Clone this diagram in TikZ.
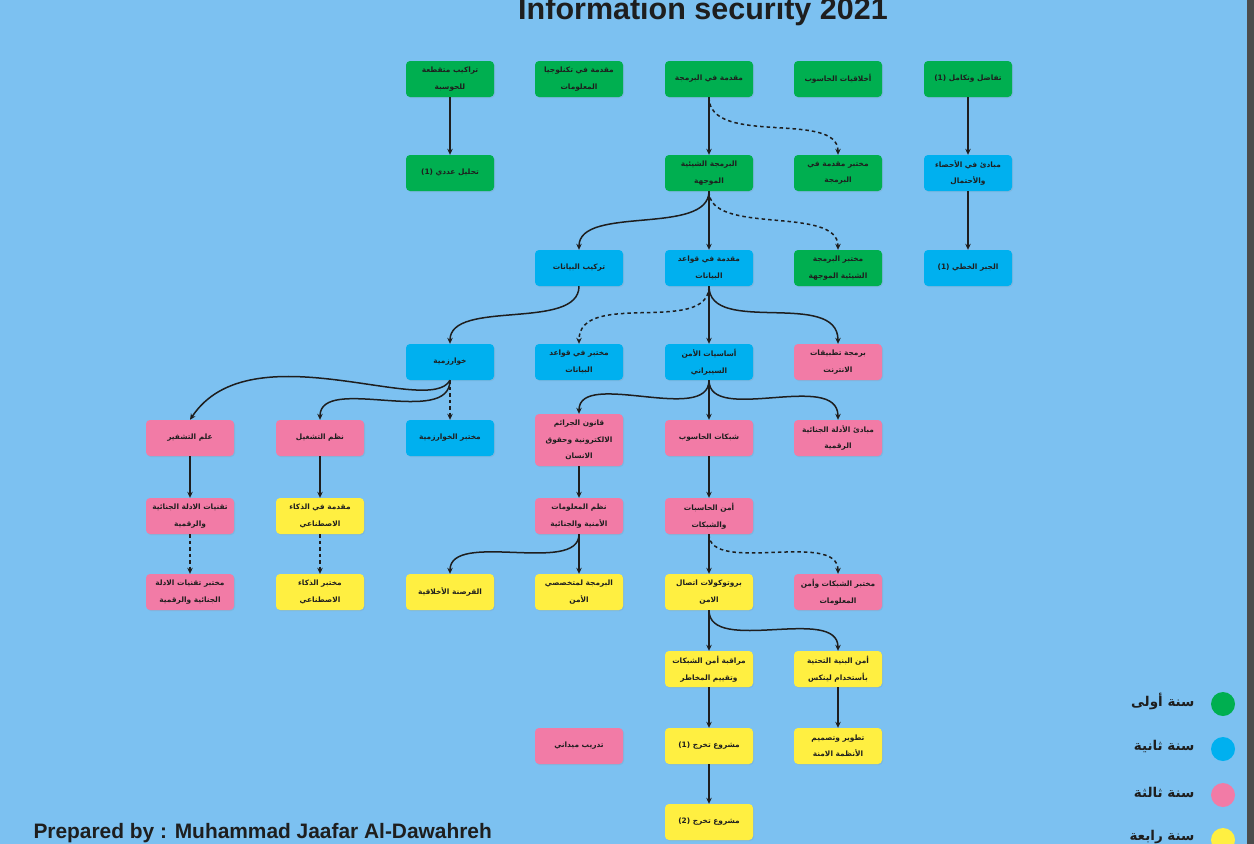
\documentclass[tikz,border=0pt]{standalone}
\usepackage{fontspec}
\setmainfont{Liberation Sans}
\newfontfamily\arabicfont[Script=Arabic]{DejaVu Sans}
\TeXXeTstate=1
\usetikzlibrary{arrows.meta, shadows}
\definecolor{bgBlue}{HTML}{7CC1F1}
\definecolor{yearGreen}{HTML}{00AF50}
\definecolor{yearBlue}{HTML}{00B0EF}
\definecolor{yearPink}{HTML}{F27BA6}
\definecolor{yearYellow}{HTML}{FFEF41}
\definecolor{inkDark}{HTML}{1E1E1E}
\newcommand{\ar}[1]{{\arabicfont\beginR #1\endR}}
\newcommand{\num}[1]{\beginL(#1)\endL}

\begin{document}
\begin{tikzpicture}[
                x=1pt, y=-1pt,
                >={Stealth[length=6pt,width=5.5pt]},
                course/.style={rectangle, rounded corners=4pt, minimum width=88pt, minimum height=36pt, inner sep=1pt, align=center, text=inkDark, font=\bfseries\fontsize{7.4}{16.5}\selectfont, drop shadow={opacity=0.15, shadow xshift=1pt, shadow yshift=-1pt}},
                year1/.style={course, fill=yearGreen},
                year2/.style={course, fill=yearBlue},
                year3/.style={course, fill=yearPink},
                year4/.style={course, fill=yearYellow},
                prereq/.style={->, line width=1.5pt, inkDark},
                coreq/.style={prereq, dash pattern=on 3.5pt off 3pt},
                legend/.style={circle, minimum size=24pt, inner sep=0pt}
            ]
                % Page
                \fill[bgBlue] (0,0) rectangle (1254,844);
                \useasboundingbox (0,0) rectangle (1254,844);
                \fill[black!70] (1247,0) rectangle (1254,844);

                % Titles
                \node[anchor=base, text=inkDark, font=\bfseries\fontsize{30.5}{32}\selectfont] (title) at (703,19) {Information security 2021};
                \node[anchor=base west, text=inkDark, font=\bfseries\fontsize{20.9}{22}\selectfont] (author) at (30,838) {Prepared by : Muhammad Jaafar Al-Dawahreh};

                % Year 1
                \node[year1] (discrete) at (450,79) {\ar{تراكيب متقطعة}\\\ar{للحوسبة}};
                \node[year1] (itintro) at (579,79) {\ar{مقدمة في تكنلوجيا}\\\ar{المعلومات}};
                \node[year1] (progintro) at (709,79) {\ar{مقدمة في البرمجة}};
                \node[year1] (ethics) at (838,79) {\ar{أخلاقيات الحاسوب}};
                \node[year1] (calc) at (968,79) {\ar{تفاضل وتكامل \num{1}}};
                \node[year1] (numerical) at (450,173) {\ar{تحليل عددي \num{1}}};
                \node[year1] (oop) at (709,173) {\ar{البرمجة الشيئية}\\\ar{الموجهة}};
                \node[year1] (proglab) at (838,173) {\ar{مختبر مقدمة في}\\\ar{البرمجة}};
                \node[year1] (ooplab) at (838,268) {\ar{مختبر البرمجة}\\\ar{الشيئية الموجهة}};

                % Year 2
                \node[year2] (stats) at (968,173) {\ar{مبادئ في الأحصاء}\\\ar{والأحتمال}};
                \node[year2] (datastruct) at (579,268) {\ar{تركيب البيانات}};
                \node[year2] (dbintro) at (709,268) {\ar{مقدمة في قواعد}\\\ar{البيانات}};
                \node[year2] (linalg) at (968,268) {\ar{الجبر الخطي \num{1}}};
                \node[year2] (algo) at (450,362) {\ar{خوارزمية}};
                \node[year2] (dblab) at (579,362) {\ar{مختبر في قواعد}\\\ar{البيانات}};
                \node[year2] (cyber) at (709,362) {\ar{أساسيات الأمن}\\\ar{السيبراني}};
                \node[year2] (algolab) at (450,438) {\ar{مختبر الخوارزمية}};

                % Year 3
                \node[year3] (webapp) at (838,362) {\ar{برمجة تطبيقات}\\\ar{الانترنت}};
                \node[year3] (crypto) at (190,438) {\ar{علم التشفير}};
                \node[year3] (opsys) at (320,438) {\ar{نظم التشغيل}};
                \node[year3, minimum height=52pt] (cyberlaw) at (579,440) {\ar{قانون الجرائم}\\\ar{الالكترونية وحقوق}\\\ar{الانسان}};
                \node[year3] (networks) at (709,438) {\ar{شبكات الحاسوب}};
                \node[year3] (forensics) at (838,438) {\ar{مبادئ الأدلة الجنائية}\\\ar{الرقمية}};
                \node[year3] (forentech) at (190,516) {\ar{تقنيات الادلة الجنائية}\\\ar{والرقمية}};
                \node[year3] (infosys) at (579,516) {\ar{نظم المعلومات}\\\ar{الأمنية والجنائية}};
                \node[year3] (netsec) at (709,516) {\ar{أمن الحاسبات}\\\ar{والشبكات}};
                \node[year3] (forenlab) at (190,592) {\ar{مختبر تقنيات الادلة}\\\ar{الجنائية والرقمية}};
                \node[year3] (netlab) at (838,592) {\ar{مختبر الشبكات وأمن}\\\ar{المعلومات}};
                \node[year3] (training) at (579,746) {\ar{تدريب ميداني}};

                % Year 4
                \node[year4] (aiintro) at (320,516) {\ar{مقدمة في الذكاء}\\\ar{الاصطناعي}};
                \node[year4] (ailab) at (320,592) {\ar{مختبر الذكاء}\\\ar{الاصطناعي}};
                \node[year4] (hacking) at (450,592) {\ar{القرصنة الأخلاقية}};
                \node[year4] (secprog) at (579,592) {\ar{البرمجة لمتخصصي}\\\ar{الأمن}};
                \node[year4] (protocols) at (709,592) {\ar{بروتوكولات اتصال}\\\ar{الامن}};
                \node[year4] (monitor) at (709,669) {\ar{مراقبة أمن الشبكات}\\\ar{وتقييم المخاطر}};
                \node[year4] (linux) at (838,669) {\ar{أمن البنية التحتية}\\\ar{بأستخدام لينكس}};
                \node[year4] (grad1) at (709,746) {\ar{مشروع تخرج \num{1}}};
                \node[year4] (design) at (838,746) {\ar{تطوير وتصميم}\\\ar{الأنظمة الامنة}};
                \node[year4] (grad2) at (709,822) {\ar{مشروع تخرج \num{2}}};

                % Straight prerequisites
                \draw[prereq] (discrete) -- (numerical);
                \draw[prereq] (calc) -- (stats);
                \draw[prereq] (stats) -- (linalg);
                \draw[prereq] (progintro) -- (oop);
                \draw[prereq] (oop) -- (dbintro);
                \draw[prereq] (dbintro) -- (cyber);
                \draw[prereq] (cyber) -- (networks);
                \draw[prereq] (crypto) -- (forentech);
                \draw[prereq] (opsys) -- (aiintro);
                \draw[prereq] (cyberlaw) -- (infosys);
                \draw[prereq] (infosys) -- (secprog);
                \draw[prereq] (networks) -- (netsec);
                \draw[prereq] (netsec) -- (protocols);
                \draw[prereq] (protocols) -- (monitor);
                \draw[prereq] (monitor) -- (grad1);
                \draw[prereq] (grad1) -- (grad2);
                \draw[prereq] (linux) -- (design);

                % Curved prerequisites
                \draw[prereq] (oop.south) .. controls +(0,45) and +(0,-45) .. (datastruct.north);
                \draw[prereq] (datastruct.south) .. controls +(0,45) and +(0,-45) .. (algo.north);
                \draw[prereq] (dbintro.south) .. controls +(0,50) and +(0,-55) .. (webapp.north);
                \draw[prereq] (algo.south) .. controls +(-20,38) and +(60,-91) .. (crypto.north);
                \draw[prereq] (algo.south) .. controls +(0,48) and +(0,-46) .. (opsys.north);
                \draw[prereq] (cyber.south) .. controls +(0,45) and +(0,-45) .. (cyberlaw.north);
                \draw[prereq] (cyber.south) .. controls +(0,45) and +(0,-50) .. (forensics.north);
                \draw[prereq] (infosys.south) .. controls +(0,41) and +(0,-44) .. (hacking.north);
                \draw[prereq] (protocols.south) .. controls +(0,45) and +(0,-46) .. (linux.north);

                % Labs taken alongside
                \draw[coreq] (progintro.south) .. controls +(0,50) and +(0,-45) .. (proglab.north);
                \draw[coreq] (oop.south) .. controls +(0,45) and +(0,-45) .. (ooplab.north);
                \draw[coreq] (dbintro.south) .. controls +(0,50) and +(0,-55) .. (dblab.north);
                \draw[coreq] (algo) -- (algolab);
                \draw[coreq] (forentech) -- (forenlab);
                \draw[coreq] (aiintro) -- (ailab);
                \draw[coreq] (netsec.south) .. controls +(0,41) and +(0,-44) .. (netlab.north);

                % Legend
                \node[legend, fill=yearGreen] (lg1) at (1223,704) {};
                \node[legend, fill=yearBlue] (lg2) at (1223,749) {};
                \node[legend, fill=yearPink] (lg3) at (1223,795) {};
                \node[legend, fill=yearYellow] (lg4) at (1223,840) {};
                \node[anchor=east, text=inkDark, font=\bfseries\fontsize{13.5}{15}\selectfont] (lg1txt) at (1198,701) {\ar{سنة أولى}};
                \node[anchor=east, text=inkDark, font=\bfseries\fontsize{13.5}{15}\selectfont] (lg2txt) at (1198,746) {\ar{سنة ثانية}};
                \node[anchor=east, text=inkDark, font=\bfseries\fontsize{13.5}{15}\selectfont] (lg3txt) at (1198,792) {\ar{سنة ثالثة}};
                \node[anchor=east, text=inkDark, font=\bfseries\fontsize{13.5}{15}\selectfont] (lg4txt) at (1198,837) {\ar{سنة رابعة}};
            \end{tikzpicture}
\end{document}
